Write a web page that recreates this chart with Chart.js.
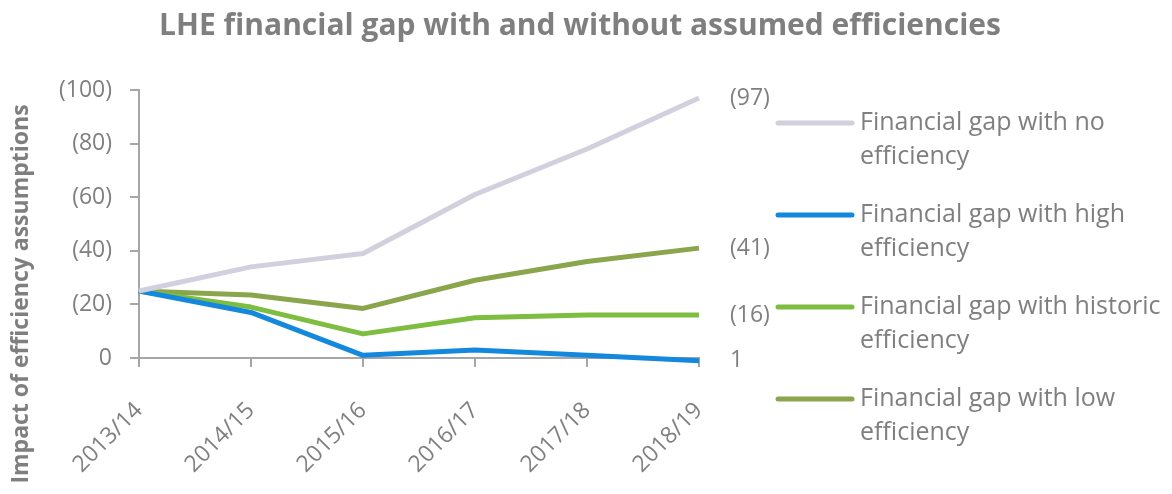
<!DOCTYPE html>
<html>
<head>
<meta charset="utf-8">
<script src="https://cdn.jsdelivr.net/npm/chart.js@4.4.1/dist/chart.umd.min.js"></script>
<style>
  html, body { margin: 0; padding: 0; background: #ffffff; }
  #wrap { width: 1172px; height: 494px; position: relative; }
</style>
</head>
<body>
<div id="wrap"><canvas id="gap"></canvas></div>
<script>
// Financial years on the horizontal axis
const years = ['2013/14', '2014/15', '2015/16', '2016/17', '2017/18', '2018/19'];

// Gap in £m: negative values are a shortfall, shown in brackets
const noEfficiency       = [-25, -34, -39, -61, -78, -97];
const highEfficiency     = [-25, -17, -1, -3, -1, 1];
const historicEfficiency = [-25, -19, -9, -15, -16, -16];
const lowEfficiency      = [-25, -23.5, -18.5, -29, -36, -41];

// Value axis ticks
const yTicks = [-100, -80, -60, -40, -20, 0];

const chartTitle = 'LHE financial gap with and without assumed efficiencies';
const yTitle = 'Impact of efficiency assumptions';

const seriesNames = [
  'Financial gap with no efficiency',
  'Financial gap with high efficiency',
  'Financial gap with historic efficiency',
  'Financial gap with low efficiency'
];
const seriesColours = ['#d2d0de', '#1488dc', '#7dbd40', '#8ba54c'];
const seriesData = [noEfficiency, highEfficiency, historicEfficiency, lowEfficiency];

const textColour = '#7f7f7f';
const axisColour = '#a6a6a6';
const FONT = '"Open Sans", "DejaVu Sans", sans-serif';

const fmt = v => (v < 0 ? '(' + Math.round(-v) + ')' : String(Math.round(v)));

// Title and vertical axis caption
const captions = {
  id: 'captions',
  afterDraw(chart) {
    const ctx = chart.ctx;
    ctx.save();
    ctx.fillStyle = textColour;
    ctx.textAlign = 'center';
    ctx.textBaseline = 'middle';
    ctx.font = 'bold 30px ' + FONT;
    ctx.fillText(chartTitle, 580, 26);
    ctx.translate(21, 294);
    ctx.rotate(-Math.PI / 2);
    ctx.font = 'bold 23px ' + FONT;
    ctx.fillText(yTitle, 0, 0);
    ctx.restore();
  }
};

// Value labels next to each line's final point
const endLabels = {
  id: 'endLabels',
  afterDatasetsDraw(chart) {
    const ctx = chart.ctx;
    ctx.save();
    ctx.fillStyle = textColour;
    ctx.font = '23px ' + FONT;
    ctx.textAlign = 'left';
    ctx.textBaseline = 'middle';
    chart.data.datasets.forEach((ds, i) => {
      const meta = chart.getDatasetMeta(i);
      const last = meta.data[meta.data.length - 1];
      ctx.fillText(fmt(ds.data[ds.data.length - 1]), last.x + 31, last.y);
    });
    ctx.restore();
  }
};

// Legend with wrapped entries on the right
const sideLegend = {
  id: 'sideLegend',
  afterDraw(chart) {
    const ctx = chart.ctx;
    const area = chart.chartArea;
    const lineX0 = area.right + 79, lineX1 = area.right + 153, textX = area.right + 161;
    const maxW = chart.width - textX - 1;
    const rowTop = 123, rowStep = 92, lineGap = 34;
    ctx.save();
    ctx.font = '25px ' + FONT;
    ctx.textBaseline = 'middle';
    ctx.textAlign = 'left';
    chart.data.datasets.forEach((ds, i) => {
      const y = rowTop + i * rowStep;
      ctx.strokeStyle = ds.borderColor;
      ctx.lineWidth = 5;
      ctx.lineCap = 'round';
      ctx.beginPath();
      ctx.moveTo(lineX0, y);
      ctx.lineTo(lineX1, y);
      ctx.stroke();
      const words = ds.label.split(' ');
      const lines = [];
      let cur = '';
      words.forEach(w => {
        const t = cur ? cur + ' ' + w : w;
        if (ctx.measureText(t).width > maxW && cur) { lines.push(cur); cur = w; }
        else cur = t;
      });
      lines.push(cur);
      ctx.fillStyle = textColour;
      lines.forEach((ln, k) => ctx.fillText(ln, textX, y + k * lineGap));
    });
    ctx.restore();
  }
};

new Chart(document.getElementById('gap'), {
  type: 'line',
  data: {
    labels: years,
    datasets: seriesData.map((d, i) => ({
      label: seriesNames[i],
      data: d,
      borderColor: seriesColours[i],
      backgroundColor: seriesColours[i],
      borderWidth: 5,
      pointRadius: 0,
      pointHoverRadius: 0,
      tension: 0,
      clip: false,
      borderJoinStyle: 'round',
      borderCapStyle: 'butt'
    }))
  },
  options: {
    responsive: true,
    maintainAspectRatio: false,
    animation: false,
    events: [],
    layout: { padding: { top: 90, right: 473, left: 0, bottom: 0 } },
    plugins: {
      legend: { display: false },
      title: { display: false },
      tooltip: { enabled: false }
    },
    scales: {
      x: {
        offset: false,
        border: { color: axisColour, width: 2 },
        grid: { display: true, drawOnChartArea: false, drawTicks: true, tickLength: 9, color: axisColour, lineWidth: 2 },
        ticks: {
          color: textColour,
          font: { family: FONT, size: 23 },
          minRotation: 45,
          maxRotation: 45,
          padding: 30,
          autoSkip: false
        },
        afterFit(scale) { scale.height = 136; }
      },
      y: {
        reverse: true,
        min: -100,
        max: 0,
        border: { color: axisColour, width: 2 },
        grid: { display: true, drawOnChartArea: false, drawTicks: true, tickLength: 9, color: axisColour, lineWidth: 2 },
        afterBuildTicks(scale) { scale.ticks = yTicks.map(v => ({ value: v })); },
        ticks: {
          color: textColour,
          font: { family: FONT, size: 23 },
          padding: 18,
          callback: v => fmt(v)
        },
        afterFit(scale) { scale.width = 139; }
      }
    }
  },
  plugins: [captions, endLabels, sideLegend]
});
</script>
</body>
</html>
